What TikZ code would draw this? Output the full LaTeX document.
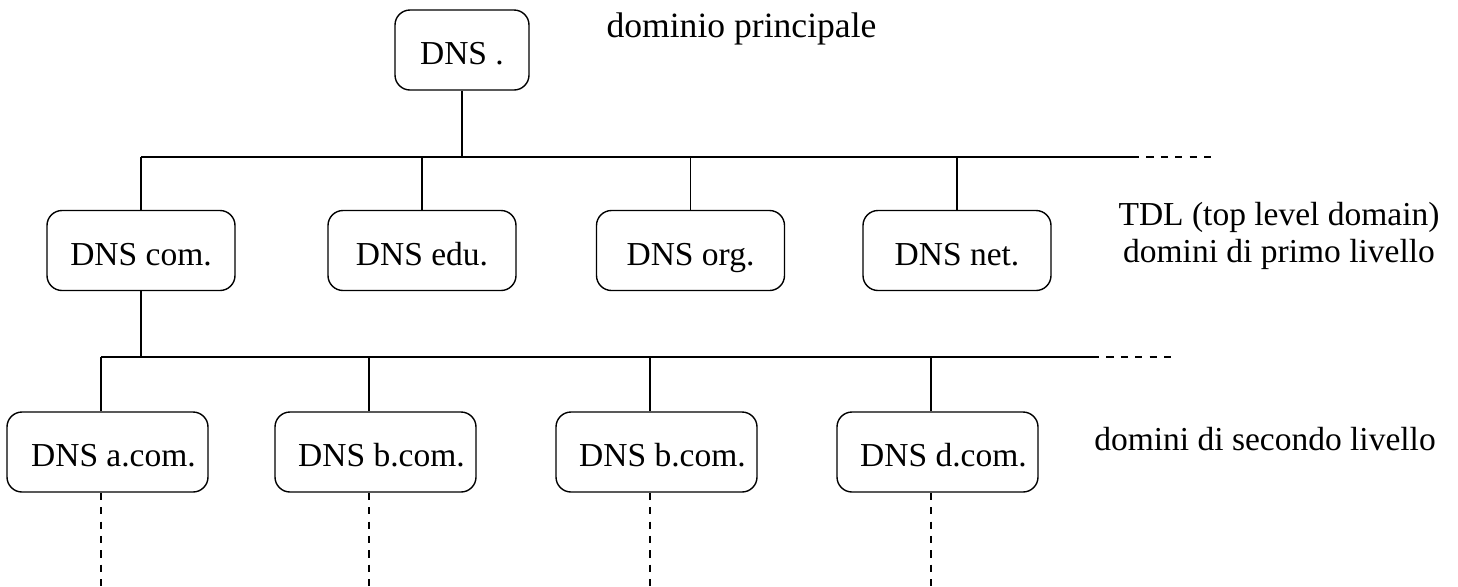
\documentclass[tikz,border=0pt]{standalone}
\usepackage{fontspec}
\setmainfont{Liberation Serif}
\begin{document}
\begin{tikzpicture}[x=0.5pt,y=-0.5pt,
  every node/.style={font=\fontsize{16.75}{18.5}\selectfont, inner sep=0pt},
  dnsbox/.style={draw, line width=0.7pt, rounded corners=7.5pt,
    minimum height=40pt, text height=14.5pt, text depth=0pt},
  topbox/.style={dnsbox, minimum width=67pt},
  tldbox/.style={dnsbox, minimum width=94pt},
  sldbox/.style={dnsbox, minimum width=100.5pt},
  link/.style={line width=0.6pt},
  more/.style={line width=0.6pt, dash pattern=on 3.6pt off 3.6pt},
  note/.style={anchor=base, align=center}]
\useasboundingbox (0,0) rectangle (1458,586);

% root server
\node[topbox] (root) at (462,50) {DNS .};
\node[note, font=\fontsize{17.8}{19}\selectfont] (rootlbl) at (741.5,37) {dominio principale};

% top level domains
\node[tldbox] (com) at (141,250.5) {DNS com.};
\node[tldbox] (edu) at (422,250.5) {DNS edu.};
\node[tldbox] (org) at (690.5,250.5) {DNS org.};
\node[tldbox] (net) at (957,250.5) {DNS net.};
\node[note] (tldlbl) at (1279,262) {TDL (top level domain)\\domini di primo livello};

% second level domains
\node[sldbox] (acom) at (107.5,452) {\hspace*{6pt}DNS a.com.};
\node[sldbox] (bcom) at (375.5,452) {\hspace*{6pt}DNS b.com.};
\node[sldbox] (ccom) at (656.5,452) {\hspace*{6pt}DNS b.com.};
\node[sldbox] (dcom) at (937.5,452) {\hspace*{6pt}DNS d.com.};
\node[note] (sldlbl) at (1265,450) {domini di secondo livello};

% first bus
\coordinate (busA) at (141,157);
\coordinate (busAend) at (1132,157);
\coordinate (busAmore) at (1212,157);
\draw[link] (root.south) -- (root.south |- busA);
\draw[link] (busA) -- (busAend);
\draw[more] (busAend) -- (busAmore);
\draw[link] (busA) -- (com.north);
\draw[link] (edu.north |- busA) -- (edu.north);
\draw[link] (org.north |- busA) -- (org.north);
\draw[link] (net.north |- busA) -- (net.north);

% second bus
\coordinate (busB) at (101,357);
\coordinate (busBend) at (1092,357);
\coordinate (busBmore) at (1172,357);
\draw[link] (com.south) -- (com.south |- busB);
\draw[link] (busB) -- (busBend);
\draw[more] (busBend) -- (busBmore);
\coordinate (la) at (101,357);
\coordinate (lb) at (369,357);
\coordinate (lc) at (650,357);
\coordinate (ld) at (931,357);
\coordinate (floor) at (0,586);
\foreach \l/\n in {la/acom, lb/bcom, lc/ccom, ld/dcom} {
  \draw[link] (\l) -- (\l |- \n.north);
  \draw[more] (\l |- \n.south) -- (\l |- floor);
}
\end{tikzpicture}
\end{document}
